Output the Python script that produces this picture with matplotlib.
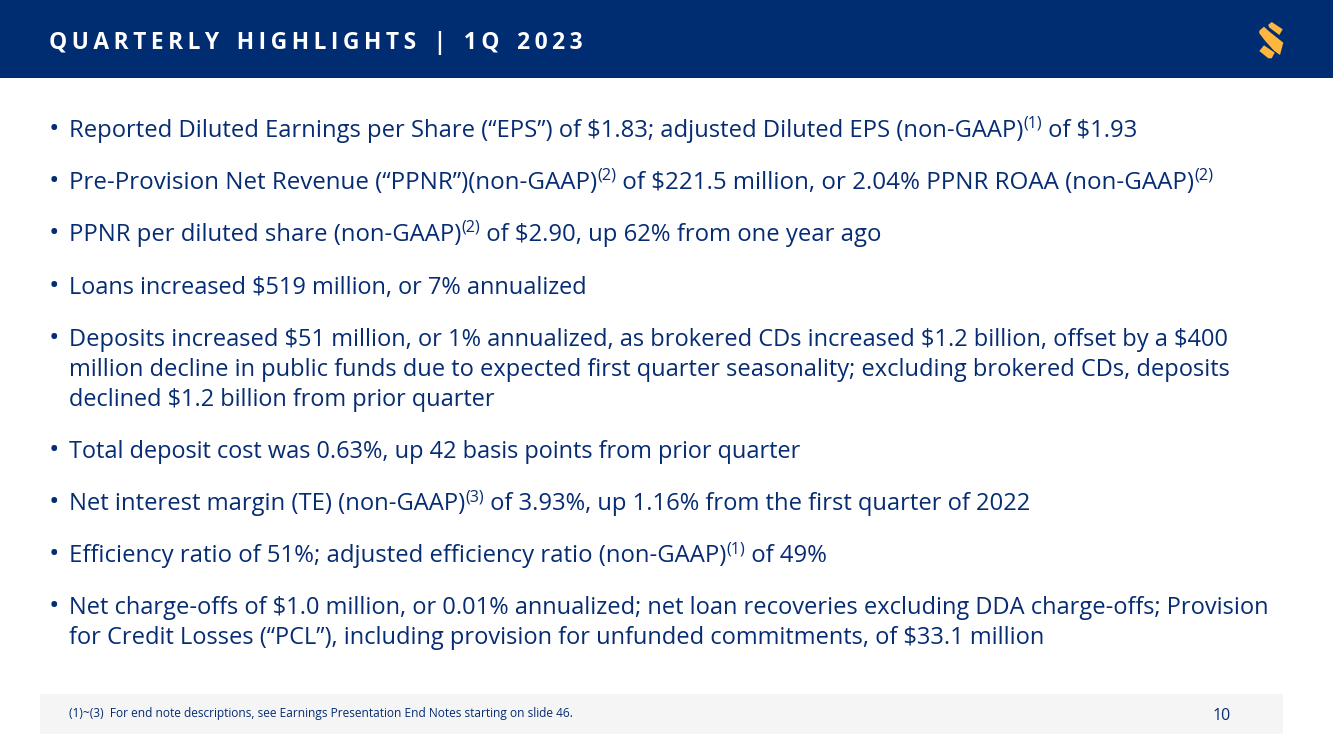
import matplotlib
matplotlib.use('Agg')
import matplotlib.pyplot as plt
from matplotlib.patches import Polygon, Rectangle

NAVY = '#002d72'
TEXT = '#062c73'
GOLD = '#fdb73e'

title = 'Q\u2009U\u2009A\u2009R\u2009T\u2009E\u2009R\u2009L\u2009Y   H\u2009I\u2009G\u2009H\u2009L\u2009I\u2009G\u2009H\u2009T\u2009S   |   1\u2009Q   2\u20090\u20092\u20093'
footnote = '(1)~(3)  For end note descriptions, see Earnings Presentation End Notes starting on slide 46.'
page_no = '10'

# each bullet: list of lines, each line a list of (text, superscript?) runs
bullets = [
    (129, [[('Reported Diluted Earnings per Share (“EPS”) of $1.83; adjusted Diluted EPS (non-GAAP)', 0), ('(1)', 1), (' of $1.93', 0)]]),
    (181, [[('Pre-Provision Net Revenue (“PPNR”)(non-GAAP)', 0), ('(2)', 1), (' of $221.5 million, or 2.04% PPNR ROAA (non-GAAP)', 0), ('(2)', 1)]]),
    (233, [[('PPNR per diluted share (non-GAAP)', 0), ('(2)', 1), (' of $2.90, up 62% from one year ago', 0)]]),
    (286, [[('Loans increased $519 million, or 7% annualized', 0)]]),
    (338, [[('Deposits increased $51 million, or 1% annualized, as brokered CDs increased $1.2 billion, offset by a $400', 0)],
           [('million decline in public funds due to expected first quarter seasonality; excluding brokered CDs, deposits', 0)],
           [('declined $1.2 billion from prior quarter', 0)]]),
    (450, [[('Total deposit cost was 0.63%, up 42 basis points from prior quarter', 0)]]),
    (502, [[('Net interest margin (TE) (non-GAAP)', 0), ('(3)', 1), (' of 3.93%, up 1.16% from the first quarter of 2022', 0)]]),
    (554, [[('Efficiency ratio of 51%; adjusted efficiency ratio (non-GAAP)', 0), ('(1)', 1), (' of 49%', 0)]]),
    (606, [[('Net charge-offs of $1.0 million, or 0.01% annualized; net loan recoveries excluding DDA charge-offs; Provision', 0)],
           [('for Credit Losses (“PCL”), including provision for unfunded commitments, of $33.1 million', 0)]]),
]
line_gap = 30
# font differs a little from the slide's, so each line gets its own size to end in the same place
line_sizes = [17.13, 17.37, 17.19, 16.9, 16.97, 16.97, 16.92, 16.91, 17.1, 17.2, 17.04, 17.0]

plt.rcParams['font.family'] = ['Open Sans', 'DejaVu Sans']

fig = plt.figure(figsize=(13.33, 7.49), dpi=100)
ax = fig.add_axes([0, 0, 1, 1])
ax.set_xlim(0, 1333)
ax.set_ylim(749, 0)
ax.axis('off')

ax.add_patch(Rectangle((0, 0), 1333, 78, color=NAVY, lw=0))
ax.add_patch(Rectangle((40, 694), 1243, 40, color='#f5f5f5', lw=0))

# logo
ax.add_patch(Polygon([(1268.3, 24.7), (1271.7, 22), (1282.7, 29.3), (1279.3, 35), (1269, 27.3)], color=GOLD, lw=0))
ax.add_patch(Polygon([(1259.3, 30.7), (1264, 26.7), (1268.3, 30.7), (1283.3, 42.7), (1280, 55), (1274, 50.7), (1265, 40.7), (1259.3, 33.3)], color=GOLD, lw=0))
ax.add_patch(Polygon([(1259.3, 51), (1264, 45.3), (1274.7, 52.7), (1271.7, 58.3), (1268.3, 58.3)], color=GOLD, lw=0))

ax.text(49, 43, title, color='white', fontsize=16.4, fontweight='bold', va='center', ha='left')

renderer = fig.canvas.get_renderer()
n = 0
for top, lines in bullets:
    ax.text(49, top + 1, '•', color=TEXT, fontsize=20, va='center', ha='left')
    for i, line in enumerate(lines):
        x = 69
        y = top + i * line_gap + 8
        size = line_sizes[n]
        n += 1
        for s, sup in line:
            if sup:
                t = ax.text(x, y - 9, s, color=TEXT, fontsize=size * 0.68, va='baseline', ha='left')
            else:
                t = ax.text(x, y, s, color=TEXT, fontsize=size, va='baseline', ha='left')
            x = t.get_window_extent(renderer).x1

ax.text(69, 713, footnote, color=TEXT, fontsize=8.6, va='center', ha='left')
ax.text(1222, 716, page_no, color=TEXT, fontsize=11.5, va='center', ha='center')

fig.savefig('out.png', dpi=100)
